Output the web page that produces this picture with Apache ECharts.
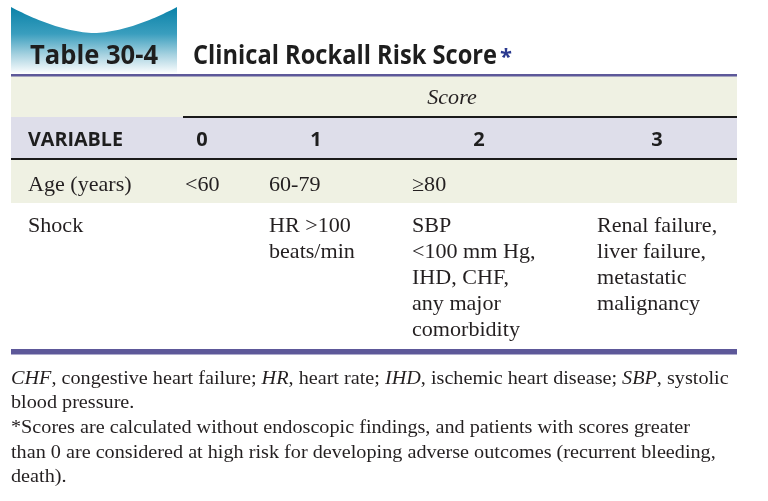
<!DOCTYPE html>
<html>
<head>
<meta charset="utf-8">
<script src="https://cdn.jsdelivr.net/npm/echarts@6/dist/echarts.min.js"></script>
<style>html,body{margin:0;padding:0;background:#fff}#c{width:768px;height:501px}</style>
</head>
<body>
<div id="c"></div>
<script>
// ---- content ----
const tableNumber = 'Table 30-4';
const tableTitle = 'Clinical Rockall Risk Score';
const titleMark = '*';
const groupLabel = 'Score';
const variableLabel = 'VARIABLE';
const scoreColumns = ['0', '1', '2', '3'];
const rowLabels = ['Age (years)', 'Shock'];
const ageCells = ['<60', '60-79', '≥80', ''];
const shockCells = [
  '',
  'HR >100\nbeats/min',
  'SBP\n<100 mm Hg,\nIHD, CHF,\nany major\ncomorbidity',
  'Renal failure,\nliver failure,\nmetastatic\nmalignancy'
];
const footnotes = [
  '{i|CHF}, congestive heart failure; {i|HR}, heart rate; {i|IHD}, ischemic heart disease; {i|SBP}, systolic',
  'blood pressure.',
  '*Scores are calculated without endoscopic findings, and patients with scores greater',
  'than 0 are considered at high risk for developing adverse outcomes (recurrent bleeding,',
  'death).'
];

// ---- layout ----
const L = 11, R = 737;
const colLeft = [185, 269, 412, 597];
const colHeadCenter = [202, 316, 479, 657];
const footY = [379, 403, 428, 453, 477];
const SERIF = '"Liberation Serif", "Times New Roman", serif';
const SANS = '"Open Sans", "Noto Sans", sans-serif';
const INK = '#231f20';

const mctx = document.createElement('canvas').getContext('2d');
function fitScale(text, font, target) {
  mctx.font = font;
  const w = mctx.measureText(text).width;
  return w > 0 ? target / w : 1;
}

const els = [];
// badge (wave-topped tab)
const badgePts = [];
const bx0 = 11, bx1 = 177, btop = 7, bdip = 33, bbot = 74;
for (let k = 0; k <= 60; k++) {
  const t = k / 60;
  const x = bx0 + (bx1 - bx0) * t;
  const y = bdip - (bdip - btop) * Math.pow(Math.abs(2 * t - 1), 1.7);
  badgePts.push([x, y]);
}
badgePts.push([bx1, bbot], [bx0, bbot]);
els.push({
  type: 'polygon',
  shape: { points: badgePts },
  style: {
    fill: {
      type: 'linear', x: 0, y: 0, x2: 0, y2: 1,
      colorStops: [
        { offset: 0, color: '#0a82a8' },
        { offset: 0.4, color: '#3a9ebe' },
        { offset: 0.72, color: '#a9d3e1' },
        { offset: 1, color: '#ffffff' }
      ]
    }
  }
});
// title texts
const fTitle = 'bold 27px ' + SANS;
els.push({ type: 'text', x: 30, y: 56, scaleX: fitScale(tableNumber, fTitle, 128),
  style: { text: tableNumber, font: fTitle, fill: '#1e1e1e', textAlign: 'left', textVerticalAlign: 'middle' } });
els.push({ type: 'text', x: 193, y: 56, scaleX: fitScale(tableTitle, fTitle, 304),
  style: { text: tableTitle, font: fTitle, fill: '#1e1e1e', textAlign: 'left', textVerticalAlign: 'middle' } });
els.push({ type: 'text', x: 500, y: 58,
  style: { text: titleMark, font: 'bold 22px ' + SANS, fill: '#2b3a8f', textAlign: 'left', textVerticalAlign: 'middle' } });

// backgrounds
els.push({ type: 'rect', shape: { x: L, y: 76, width: R - L, height: 41 }, style: { fill: '#eff1e3' } });
els.push({ type: 'rect', shape: { x: L, y: 117, width: R - L, height: 42 }, style: { fill: '#dedeea' } });
els.push({ type: 'rect', shape: { x: L, y: 160, width: R - L, height: 43 }, style: { fill: '#eff1e3' } });
// lines
els.push({ type: 'rect', shape: { x: L, y: 74, width: R - L, height: 2.5 }, style: { fill: '#5d5899' } });
els.push({ type: 'rect', shape: { x: 183, y: 116, width: R - 183, height: 2 }, style: { fill: '#1a1a1a' } });
els.push({ type: 'rect', shape: { x: L, y: 158, width: R - L, height: 2 }, style: { fill: '#1a1a1a' } });
els.push({ type: 'rect', shape: { x: L, y: 349, width: R - L, height: 5.5 }, style: { fill: '#5d5899' } });

// Score group label
els.push({ type: 'text', x: 452, y: 98, scaleX: 1.05,
  style: { text: groupLabel, font: 'italic 21px ' + SERIF, fill: INK, textAlign: 'center', textVerticalAlign: 'middle' } });
// header row
const fHead = 'bold 20px ' + SANS;
els.push({ type: 'text', x: 28, y: 140, scaleX: fitScale(variableLabel, fHead, 95),
  style: { text: variableLabel, font: fHead, fill: '#1e1e1e', textAlign: 'left', textVerticalAlign: 'middle' } });
scoreColumns.forEach((c, i) => {
  els.push({ type: 'text', x: colHeadCenter[i], y: 140,
    style: { text: c, font: fHead, fill: '#1e1e1e', textAlign: 'center', textVerticalAlign: 'middle' } });
});
// body rows
const fBody = '21px ' + SERIF;
const bodyScale = (fitScale('Age (years)', fBody, 102) + fitScale('Renal failure,', fBody, 122)) / 2;
els.push({ type: 'text', x: 28, y: 185, scaleX: bodyScale,
  style: { text: rowLabels[0], font: fBody, fill: INK, textAlign: 'left', textVerticalAlign: 'middle' } });
ageCells.forEach((t, i) => {
  if (!t) return;
  els.push({ type: 'text', x: colLeft[i], y: 185, scaleX: bodyScale,
    style: { text: t, font: fBody, fill: INK, textAlign: 'left', textVerticalAlign: 'middle' } });
});
els.push({ type: 'text', x: 28, y: 213, scaleX: bodyScale,
  style: { text: rowLabels[1], font: fBody, fill: INK, lineHeight: 26, textAlign: 'left', textVerticalAlign: 'top' } });
shockCells.forEach((t, i) => {
  if (!t) return;
  els.push({ type: 'text', x: colLeft[i], y: 213, scaleX: bodyScale,
    style: { text: t, font: fBody, fill: INK, lineHeight: 26, textAlign: 'left', textVerticalAlign: 'top' } });
});
// footnotes
const fFoot = { fontFamily: 'Liberation Serif', fontSize: 18.5, fill: INK };
const footPlain = footnotes[0].replace(/\{i\|([^}]*)\}/g, '$1');
const footScale = fitScale(footPlain, '18.5px "Liberation Serif"', 715);
footnotes.forEach((t, i) => {
  els.push({ type: 'text', x: L, y: footY[i], scaleX: footScale,
    style: Object.assign({ text: t, textAlign: 'left', textVerticalAlign: 'middle',
      rich: { i: Object.assign({ fontStyle: 'italic' }, fFoot) } }, fFoot) });
});

const chart = echarts.init(document.getElementById('c'), null, { renderer: 'canvas' });
chart.setOption({ backgroundColor: '#ffffff', animation: false, graphic: { elements: els } });
</script>
</body>
</html>
